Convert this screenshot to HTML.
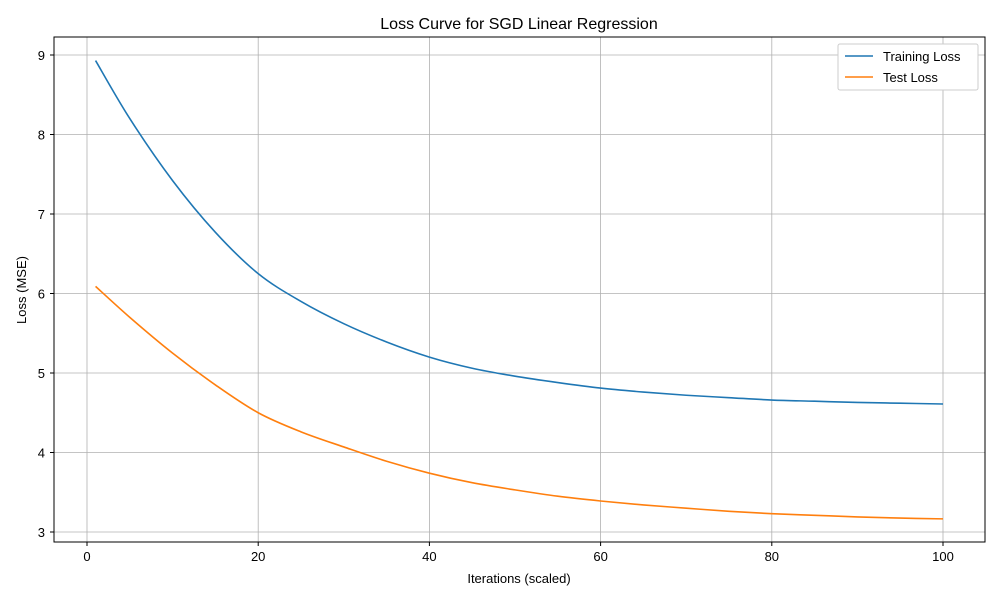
<!DOCTYPE html>
<html><head><meta charset="utf-8"><style>
body{margin:0;background:#fff;font-family:"Liberation Sans","DejaVu Sans",sans-serif;}
svg text{font-family:"Liberation Sans","DejaVu Sans",sans-serif;fill:#000;}
</style></head><body>
<svg id="chart" width="1000" height="600">
<rect width="1000" height="600" fill="#fff"/>
<g id="grid"></g>
<g id="series"></g>
<rect x="54" y="37" width="931" height="505" fill="none" stroke="#000" stroke-width="1"/>
<g id="ticks"></g>
<text x="519" y="29" text-anchor="middle" font-size="16">Loss Curve for SGD Linear Regression</text>
<text x="519" y="583" text-anchor="middle" font-size="13">Iterations (scaled)</text>
<text transform="translate(26,290) rotate(-90)" text-anchor="middle" font-size="13">Loss (MSE)</text>
<g>
<rect x="838" y="44" width="140" height="46" fill="#fff" stroke="#ccc" rx="2"/>
<line x1="845" y1="56" x2="873" y2="56" stroke="#1f77b4" stroke-width="1.5"/>
<text x="883" y="61" font-size="13">Training Loss</text>
<line x1="845" y1="77" x2="873" y2="77" stroke="#ff7f0e" stroke-width="1.5"/>
<text x="883" y="82" font-size="13">Test Loss</text>
</g>
</svg>
<script>
const iterations=[1,5,10,15,20,25,30,35,40,45,50,55,60,65,70,75,80,85,90,95,100];
const trainLoss=[8.93,8.2,7.42,6.77,6.25,5.9,5.62,5.39,5.2,5.06,4.96,4.88,4.81,4.76,4.72,4.69,4.66,4.645,4.63,4.62,4.61];
const testLoss=[6.09,5.7,5.25,4.85,4.5,4.26,4.07,3.89,3.74,3.62,3.53,3.45,3.39,3.34,3.3,3.26,3.23,3.21,3.19,3.175,3.165];
const xTicks=[0,20,40,60,80,100];
const yTicks=[3,4,5,6,7,8,9];
const NS="http://www.w3.org/2000/svg";
const xS=v=>87+v*8.56;
const yS=v=>532-(v-3)*79.5;
const grid=document.getElementById('grid'),ticks=document.getElementById('ticks'),ser=document.getElementById('series');
function mk(t,a,p){const e=document.createElementNS(NS,t);for(const k in a)e.setAttribute(k,a[k]);p.appendChild(e);return e;}
xTicks.forEach(v=>{
 const g=mk('line',{x1:xS(v),x2:xS(v),y1:37,y2:542,stroke:'#b0b0b0','stroke-width':0.8},grid);
 
 
 mk('line',{x1:xS(v),x2:xS(v),y1:542,y2:546,stroke:'#000'},ticks);
 const t=mk('text',{x:xS(v),y:561,'text-anchor':'middle','font-size':13},ticks);t.textContent=v;
 
 
});
yTicks.forEach(v=>{
 const g=mk('line',{x1:54,x2:985,y1:yS(v),y2:yS(v),stroke:'#b0b0b0','stroke-width':0.8},grid);
 
 
 mk('line',{x1:50,x2:54,y1:yS(v),y2:yS(v),stroke:'#000'},ticks);
 const t=mk('text',{x:45,y:yS(v)+5,'text-anchor':'end','font-size':13},ticks);t.textContent=v;
 
 
});
function line(vals,color,name){
 const P=iterations.map((x,i)=>[xS(x),yS(vals[i])]);
 let d='M'+P[0][0]+','+P[0][1];
 for(let i=0;i<P.length-1;i++){
  const p0=P[Math.max(0,i-1)],p1=P[i],p2=P[i+1],p3=P[Math.min(P.length-1,i+2)];
  const c1=[p1[0]+(p2[0]-p0[0])/6,p1[1]+(p2[1]-p0[1])/6];
  const c2=[p2[0]-(p3[0]-p1[0])/6,p2[1]-(p3[1]-p1[1])/6];
  d+=' C'+c1[0]+','+c1[1]+' '+c2[0]+','+c2[1]+' '+p2[0]+','+p2[1];
 }
 const p=mk('path',{d:d,fill:'none',stroke:color,'stroke-width':1.6,'stroke-linejoin':'round'},ser);
 
 
}
line(trainLoss,'#1f77b4','training-loss-line');
line(testLoss,'#ff7f0e','test-loss-line');
</script>
</body></html>
